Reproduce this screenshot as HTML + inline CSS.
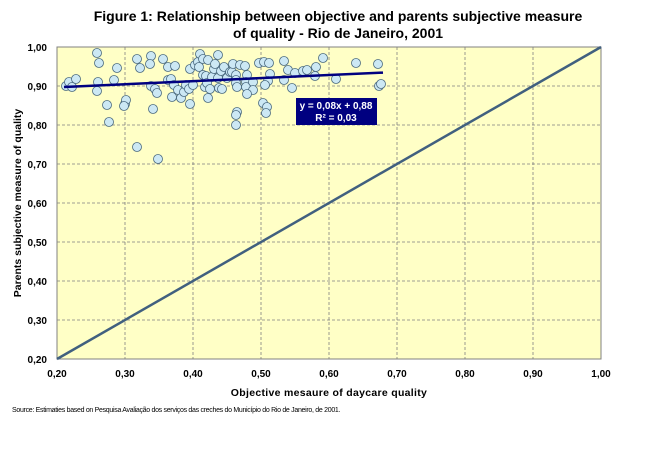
<!DOCTYPE html>
<html><head><meta charset="utf-8"><style>
body{margin:0;background:#fff;width:649px;height:449px;overflow:hidden}
svg{display:block}
text{font-family:"Liberation Sans",Arial,sans-serif}
</style></head><body>
<svg width="649" height="449" viewBox="0 0 649 449">
<text x="338" y="21" text-anchor="middle" font-size="14" font-weight="bold">Figure 1: Relationship between objective and parents subjective measure</text>
<text x="338" y="38" text-anchor="middle" font-size="14" font-weight="bold">of quality - Rio de Janeiro, 2001</text>
<rect x="57" y="47" width="544" height="312" fill="#FFFFC6" stroke="#808080"/>
<g stroke="#808080" stroke-dasharray="3,2" stroke-width="0.8">
<line x1="125" y1="47" x2="125" y2="359"/><line x1="193" y1="47" x2="193" y2="359"/><line x1="261" y1="47" x2="261" y2="359"/><line x1="329" y1="47" x2="329" y2="359"/><line x1="397" y1="47" x2="397" y2="359"/><line x1="465" y1="47" x2="465" y2="359"/><line x1="533" y1="47" x2="533" y2="359"/>
<line x1="57" y1="86" x2="601" y2="86"/><line x1="57" y1="125" x2="601" y2="125"/><line x1="57" y1="164" x2="601" y2="164"/><line x1="57" y1="203" x2="601" y2="203"/><line x1="57" y1="242" x2="601" y2="242"/><line x1="57" y1="281" x2="601" y2="281"/><line x1="57" y1="320" x2="601" y2="320"/>
</g>
<line x1="57" y1="359" x2="601" y2="47" stroke="#41607F" stroke-width="2.5"/>
<g fill="#CCE8F4" stroke="#4A6A80" stroke-width="0.8">
<circle cx="66" cy="86" r="4.5"/><circle cx="69" cy="82" r="4.5"/><circle cx="72" cy="87" r="4.5"/><circle cx="76" cy="79" r="4.5"/><circle cx="97" cy="53" r="4.5"/><circle cx="99" cy="63" r="4.5"/><circle cx="98" cy="82" r="4.5"/><circle cx="97" cy="91" r="4.5"/><circle cx="107" cy="105" r="4.5"/><circle cx="109" cy="122" r="4.5"/><circle cx="114" cy="80" r="4.5"/><circle cx="117" cy="68" r="4.5"/><circle cx="125" cy="104" r="4.5"/><circle cx="126" cy="100" r="4.5"/><circle cx="124" cy="106" r="4.5"/><circle cx="137" cy="59" r="4.5"/><circle cx="140" cy="68" r="4.5"/><circle cx="137" cy="147" r="4.5"/><circle cx="158" cy="159" r="4.5"/><circle cx="151" cy="56" r="4.5"/><circle cx="150" cy="64" r="4.5"/><circle cx="151" cy="86" r="4.5"/><circle cx="155" cy="89" r="4.5"/><circle cx="157" cy="93" r="4.5"/><circle cx="153" cy="109" r="4.5"/><circle cx="163" cy="59" r="4.5"/><circle cx="168" cy="67" r="4.5"/><circle cx="168" cy="80" r="4.5"/><circle cx="172" cy="97" r="4.5"/><circle cx="171" cy="79" r="4.5"/><circle cx="174" cy="85" r="4.5"/><circle cx="175" cy="66" r="4.5"/><circle cx="178" cy="90" r="4.5"/><circle cx="181" cy="98" r="4.5"/><circle cx="184" cy="92" r="4.5"/><circle cx="186" cy="85" r="4.5"/><circle cx="190" cy="69" r="4.5"/><circle cx="189" cy="89" r="4.5"/><circle cx="190" cy="104" r="4.5"/><circle cx="193" cy="85" r="4.5"/><circle cx="195" cy="65" r="4.5"/><circle cx="198" cy="62" r="4.5"/><circle cx="199" cy="67" r="4.5"/><circle cx="200" cy="54" r="4.5"/><circle cx="203" cy="59" r="4.5"/><circle cx="203" cy="75" r="4.5"/><circle cx="205" cy="87" r="4.5"/><circle cx="206" cy="76" r="4.5"/><circle cx="207" cy="83" r="4.5"/><circle cx="208" cy="98" r="4.5"/><circle cx="208" cy="60" r="4.5"/><circle cx="210" cy="89" r="4.5"/><circle cx="212" cy="77" r="4.5"/><circle cx="214" cy="69" r="4.5"/><circle cx="215" cy="64" r="4.5"/><circle cx="218" cy="55" r="4.5"/><circle cx="218" cy="78" r="4.5"/><circle cx="219" cy="88" r="4.5"/><circle cx="221" cy="71" r="4.5"/><circle cx="222" cy="89" r="4.5"/><circle cx="224" cy="67" r="4.5"/><circle cx="227" cy="78" r="4.5"/><circle cx="230" cy="72" r="4.5"/><circle cx="232" cy="72" r="4.5"/><circle cx="236" cy="75" r="4.5"/><circle cx="233" cy="64" r="4.5"/><circle cx="236" cy="80" r="4.5"/>
<circle cx="240" cy="65" r="4.5"/><circle cx="245" cy="66" r="4.5"/><circle cx="247" cy="75" r="4.5"/><circle cx="246" cy="82" r="4.5"/><circle cx="246" cy="87" r="4.5"/><circle cx="253" cy="82" r="4.5"/><circle cx="259" cy="63" r="4.5"/><circle cx="264" cy="62" r="4.5"/><circle cx="269" cy="63" r="4.5"/><circle cx="270" cy="74" r="4.5"/><circle cx="268" cy="81" r="4.5"/><circle cx="265" cy="85" r="4.5"/><circle cx="263" cy="103" r="4.5"/><circle cx="267" cy="107" r="4.5"/><circle cx="266" cy="113" r="4.5"/><circle cx="284" cy="61" r="4.5"/><circle cx="288" cy="70" r="4.5"/><circle cx="284" cy="80" r="4.5"/><circle cx="292" cy="88" r="4.5"/><circle cx="295" cy="73" r="4.5"/><circle cx="303" cy="71" r="4.5"/><circle cx="307" cy="70" r="4.5"/><circle cx="316" cy="67" r="4.5"/><circle cx="315" cy="76" r="4.5"/><circle cx="323" cy="58" r="4.5"/><circle cx="336" cy="79" r="4.5"/><circle cx="356" cy="63" r="4.5"/><circle cx="378" cy="64" r="4.5"/><circle cx="379" cy="86" r="4.5"/><circle cx="381" cy="84" r="4.5"/><circle cx="237" cy="112" r="4.5"/><circle cx="236" cy="115" r="4.5"/><circle cx="236" cy="125" r="4.5"/><circle cx="236" cy="83" r="4.5"/><circle cx="237" cy="87" r="4.5"/><circle cx="253" cy="90" r="4.5"/><circle cx="247" cy="94" r="4.5"/>
</g>
<line x1="64" y1="87" x2="383" y2="72.6" stroke="#000080" stroke-width="2.5"/>
<rect x="296" y="98" width="81" height="27" fill="#000080"/>
<text x="336" y="109" text-anchor="middle" font-size="10" font-weight="bold" fill="#fff">y = 0,08x + 0,88</text>
<text x="336" y="121" text-anchor="middle" font-size="10" font-weight="bold" fill="#fff">R² = 0,03</text>
<g font-size="10" font-weight="bold" text-anchor="end">
<text x="47" y="51">1,00</text><text x="47" y="90">0,90</text><text x="47" y="129">0,80</text><text x="47" y="168">0,70</text><text x="47" y="207">0,60</text><text x="47" y="246">0,50</text><text x="47" y="285">0,40</text><text x="47" y="324">0,30</text><text x="47" y="363">0,20</text>
</g>
<g font-size="10" font-weight="bold" text-anchor="middle">
<text x="57" y="377">0,20</text><text x="125" y="377">0,30</text><text x="193" y="377">0,40</text><text x="261" y="377">0,50</text><text x="329" y="377">0,60</text><text x="397" y="377">0,70</text><text x="465" y="377">0,80</text><text x="533" y="377">0,90</text><text x="601" y="377">1,00</text>
</g>
<text x="329" y="396" text-anchor="middle" font-size="10.5" font-weight="bold" letter-spacing="0.3">Objective mesaure of daycare quality</text>
<text transform="translate(21,203) rotate(-90)" text-anchor="middle" font-size="10.5" font-weight="bold">Parents subjective measure of quality</text>
<text x="12" y="412" font-size="7" letter-spacing="-0.3">Source: Estimaties based  on Pesquisa Avaliação dos serviços das creches do Município do Rio de Janeiro, de 2001.</text>
</svg>
</body></html>
